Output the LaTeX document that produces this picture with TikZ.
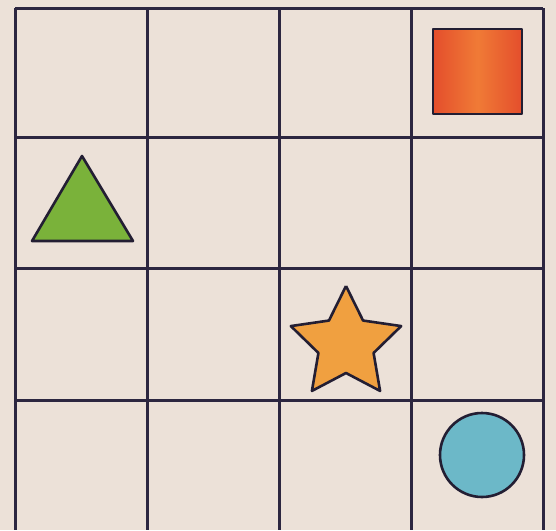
\documentclass[tikz,border=0pt]{standalone}
\usepackage{xcolor}
\usepackage{tikz}
\definecolor{paper}{RGB}{236,225,216}
\definecolor{gridink}{RGB}{44,38,64}
\definecolor{sqred}{RGB}{228,78,44}
\definecolor{sqorange}{RGB}{240,122,54}
\definecolor{trigreen}{RGB}{122,178,58}
\definecolor{starorange}{RGB}{240,160,64}
\definecolor{dotblue}{RGB}{108,184,200}

\begin{document}
\begin{tikzpicture}[
  x=1pt, y=-1pt,
  gridline/.style={draw=gridink, line width=3pt},
  shapeline/.style={draw=gridink!80!black, line width=2.6pt, line join=round}
]
  \useasboundingbox (0,0) rectangle (556,530);
  \fill[paper] (0,0) rectangle (556,530);

  % grid
  \foreach \x in {15,147,279,411,543}
    \draw[gridline] (\x,8) -- (\x,530);
  \foreach \y in {8,137,268,400}
    \draw[gridline] (15,\y) -- (543,\y);

  % square
  \shade[left color=sqred, right color=sqred, middle color=sqorange]
    (433,29) rectangle (522,114);
  \draw[shapeline] (433,29) rectangle (522,114);

  % triangle
  \draw[shapeline, fill=trigreen] (82,156) -- (133,241) -- (32,241) -- cycle;

  % star
  \draw[shapeline, fill=starorange]
    plot[samples at={0,...,10}] ({346+(mod(\x,2)==0 ? 58 : 29)*cos(90+36*\x)},
                                 {344-(mod(\x,2)==0 ? 58 : 29)*sin(90+36*\x)});

  % circle
  \draw[shapeline, fill=dotblue] (482,455) circle (42);
\end{tikzpicture}
\end{document}
